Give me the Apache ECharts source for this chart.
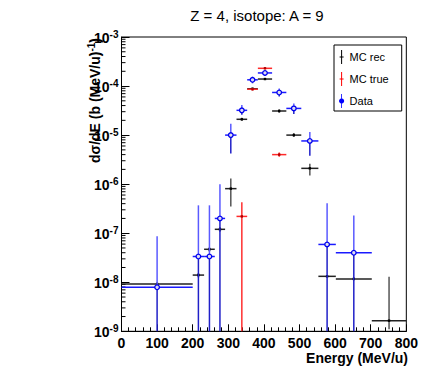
<!DOCTYPE html>
<html><head><meta charset="utf-8">
<script src="https://cdn.jsdelivr.net/npm/echarts@6/dist/echarts.min.js"></script>
<style>html,body{margin:0;padding:0;background:#fff}#c{width:421px;height:369px}</style>
</head><body><div id="c"></div>
<script>
// ---- data ----
const binLo = [0,200,232,262,291,323,353,383,423,463,505,553,602,703];
const binHi = [200,232,262,291,323,353,383,423,463,505,553,602,703,800];

const recVal = [9.2e-9,1.4e-8,4.7e-8,1.2e-7,8.1e-7,2.1e-5,8.8e-5,1.39e-4,3.1e-5,1.0e-5,2.1e-6,1.32e-8,1.17e-8,1.65e-9];
const recLo  = [8.4e-9,1.25e-8,4.2e-8,1.07e-7,3.5e-7,1.95e-5,8.3e-5,1.33e-4,2.85e-5,9.2e-6,1.5e-6,1.25e-8,1.1e-8,1.1e-9];
const recHi  = [1.0e-8,1.55e-8,5.2e-8,1.34e-7,1.3e-6,2.25e-5,9.3e-5,1.45e-4,3.35e-5,1.1e-5,2.6e-6,1.4e-8,1.25e-8,1.3e-8];

const trueVal = [null,null,null,null,null,2.2e-7,8.6e-5,2.3e-4,4.0e-6,null,null,null,null,null];
const trueLo  = [null,null,null,null,null,0,8.1e-5,2.2e-4,3.6e-6,null,null,null,null,null];
const trueHi  = [null,null,null,null,null,4.3e-7,9.1e-5,2.4e-4,4.4e-6,null,null,null,null,null];

const dataVal = [7.9e-9,3.35e-8,3.35e-8,2.0e-7,1.0e-5,3.2e-5,1.34e-4,1.85e-4,7.4e-5,3.5e-5,7.6e-6,5.9e-8,4.0e-8,null];
const dataLo  = [0,0,0,0,4.2e-6,2.6e-5,1.14e-4,1.6e-4,6.1e-5,2.7e-5,3.8e-6,0,0,null];
const dataHi  = [8.7e-8,3.7e-7,3.7e-7,1.0e-6,1.7e-5,4.1e-5,1.55e-4,2.09e-4,8.9e-5,4.4e-5,1.15e-5,4.1e-7,2.3e-7,null];

const xTicks = [0,100,200,300,400,500,600,700,800];
const yDecades = [1e-9,1e-8,1e-7,1e-6,1e-5,1e-4,1e-3];

// ---- build ----
function rows(val, lo, hi){
  const out=[];
  for(let i=0;i<val.length;i++){ if(val[i]==null) continue; out.push([binLo[i],binHi[i],val[i],lo[i],hi[i]]); }
  return out;
}
function errRender(hColor, upColor, dnColor, marker){
  return function(params, api){
    const cs = params.coordSys;
    const bottom = cs.y + cs.height;
    const xlo=api.value(0), xhi=api.value(1), y=api.value(2), ylo=api.value(3), yhi=api.value(4);
    const pL = api.coord([xlo,y]), pR = api.coord([xhi,y]);
    const xc = (pL[0]+pR[0])/2, yc = pL[1];
    const yT = api.coord([xlo,yhi])[1];
    const yB = (ylo>1e-9) ? api.coord([xlo,ylo])[1] : bottom;
    const ch = [
      {type:'line',shape:{x1:xc,y1:yT,x2:xc,y2:yc},style:{stroke:upColor,lineWidth:1.5}},
      {type:'line',shape:{x1:xc,y1:yc,x2:xc,y2:Math.min(yB,bottom)},style:{stroke:dnColor,lineWidth:1.5}},
      {type:'line',shape:{x1:pL[0],y1:yc,x2:pR[0],y2:yc},style:{stroke:hColor,lineWidth:1.5}}
    ];
    if(marker==='circle') ch.push({type:'circle',shape:{cx:xc,cy:yc,r:2.3},style:{fill:'#dde',stroke:'#0000ee',lineWidth:1.3}});
    else ch.push({type:'rect',shape:{x:xc-1.2,y:yc-1.2,width:2.4,height:2.4},style:{fill:marker}});
    return {type:'group',children:ch};
  };
}
const minorY=[];
for(let k=0;k<yDecades.length-1;k++){ for(let m=2;m<=9;m++) minorY.push([0, m*yDecades[k]]); }

const chart = echarts.init(document.getElementById('c'), null, {renderer:'svg'});
const FONT = '"Liberation Sans", Arial, Helvetica, sans-serif';
chart.setOption({
  animation:false,
  textStyle:{fontFamily:FONT},
  grid:{left:121.5,top:37,width:287,height:294.3,show:true,borderColor:'#000',borderWidth:1,backgroundColor:'#fff'},
  xAxis:{type:'value',min:xTicks[0],max:xTicks[xTicks.length-1],interval:100,
    axisLine:{show:true,lineStyle:{color:'#000',width:1}},
    axisTick:{show:true,inside:true,length:7,lineStyle:{color:'#000'}},
    minorTick:{show:true,splitNumber:5,length:4,lineStyle:{color:'#000'}},
    splitLine:{show:false},
    axisLabel:{color:'#000',fontSize:14,fontWeight:'bold',margin:5,fontFamily:FONT}},
  yAxis:{type:'log',logBase:10,min:yDecades[0],max:yDecades[yDecades.length-1],
    axisLine:{show:true,lineStyle:{color:'#000',width:1}},
    axisTick:{show:true,inside:true,length:8,lineStyle:{color:'#000'}},
    splitLine:{show:false},
    axisLabel:{color:'#000',margin:3,fontFamily:FONT,showMinLabel:true,showMaxLabel:true,
      formatter:function(v){return '{b|10}{s|'+Math.round(Math.log10(v))+'}';},
      rich:{b:{fontSize:14,fontWeight:'bold',color:'#000',fontFamily:FONT,verticalAlign:'bottom',lineHeight:16},
            s:{fontSize:10,fontWeight:'bold',color:'#000',fontFamily:FONT,verticalAlign:'top',lineHeight:10,padding:[0,0,6,0]}}}},
  legend:{data:[
      {name:'MC rec',icon:'path://M2.5,0h1v14h-1z M1,6.5h4v1h-4z'},
      {name:'MC true',icon:'path://M2.5,0h1v14h-1z M1,6.5h4v1h-4z'},
      {name:'Data',icon:'path://M2.6,0h0.8v4.6h-0.8z M2.6,9.4h0.8v4.6h-0.8z M3,4.4a2.6,2.6 0 1,1 -0.01,0z'}],
    orient:'vertical',left:334,top:45,itemWidth:6,itemHeight:14,itemGap:8,
    padding:[5,13,3,5],borderColor:'#000',borderWidth:1,backgroundColor:'#fff',
    selectedMode:false,textStyle:{fontSize:11,color:'#000',fontFamily:FONT}},
  graphic:[
    {type:'text',x:257,y:15,style:{text:'Z = 4, isotope: A = 9',font:'15px '+FONT,fill:'#000',textAlign:'center',textVerticalAlign:'middle'}},
    {type:'text',x:408,y:358,style:{text:'Energy (MeV/u)',font:'bold 14px '+FONT,fill:'#000',textAlign:'right',textVerticalAlign:'middle'}},
    {type:'text',x:95,y:38,rotation:Math.PI/2,style:{
      rich:{n:{font:'bold 14px '+FONT,fill:'#000'},s:{font:'bold 10px '+FONT,fill:'#000',padding:[0,0,7,0]}},
      text:'{n|dσ/dE (b (MeV/u)}{s|-1}{n|)}',textAlign:'right',textVerticalAlign:'middle'}}
  ],
  series:[
    {type:'custom',name:'minorY',coordinateSystem:'cartesian2d',silent:true,clip:false,data:minorY,z:1,
      renderItem:function(params,api){const p=api.coord([api.value(0),api.value(1)]);
        return {type:'line',shape:{x1:p[0],y1:p[1],x2:p[0]+4,y2:p[1]},style:{stroke:'#000',lineWidth:1}};}},
    {type:'custom',name:'MC rec',color:'#000',coordinateSystem:'cartesian2d',data:rows(recVal,recLo,recHi),z:2,
      renderItem:errRender('#222','#555','#555','#000')},
    {type:'custom',name:'MC true',color:'#ff0000',coordinateSystem:'cartesian2d',data:rows(trueVal,trueLo,trueHi),z:3,
      renderItem:errRender('#ff2a2a','#ff3030','#ff3030','#b00000')},
    {type:'custom',name:'Data',color:'#0000ff',coordinateSystem:'cartesian2d',data:rows(dataVal,dataLo,dataHi),z:4,
      renderItem:errRender('#1a1aff','#5a5aff','#2020c8','circle')}
  ]
});
</script></body></html>
